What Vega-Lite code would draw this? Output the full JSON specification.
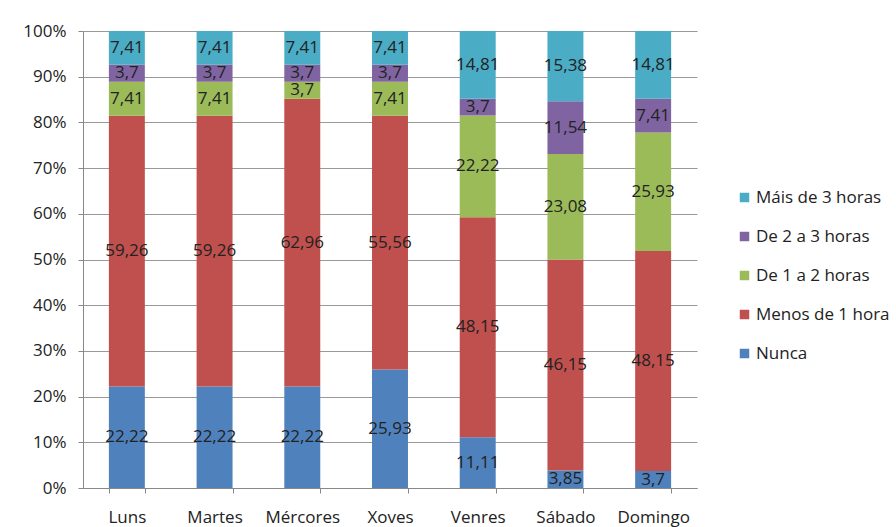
{
  "$schema": "https://vega.github.io/schema/vega-lite/v6.json",
  "width": 614,
  "height": 457,
  "autosize": {"type": "none"},
  "padding": {"left": 83, "top": 31, "right": 199, "bottom": 39},
  "background": "white",
  "config": {
    "font": "Open Sans",
    "view": {"stroke": null},
    "locale": {"number": {"decimal": ",", "thousands": ".", "grouping": [3], "currency": ["", " €"]}},
    "axisY": {
      "title": null, "format": ".0%", "values": [0,0.1,0.2,0.3,0.4,0.5,0.6,0.7,0.8,0.9,1],
      "labelFontSize": 17, "labelColor": "#222222", "labelPadding": 12,
      "tickSize": 5, "tickColor": "#888888", "domainColor": "#888888",
      "grid": true, "gridColor": "#999999", "gridWidth": 1, "labelOverlap": false
    }
  },
  "data": {
    "values": [
      {"dia": "Luns", "cat": "Nunca", "ord": 1, "v": 22.22},
      {"dia": "Luns", "cat": "Menos de 1 hora", "ord": 2, "v": 59.26},
      {"dia": "Luns", "cat": "De 1 a 2 horas", "ord": 3, "v": 7.41},
      {"dia": "Luns", "cat": "De 2 a 3 horas", "ord": 4, "v": 3.7},
      {"dia": "Luns", "cat": "Máis de 3 horas", "ord": 5, "v": 7.41},
      {"dia": "Martes", "cat": "Nunca", "ord": 1, "v": 22.22},
      {"dia": "Martes", "cat": "Menos de 1 hora", "ord": 2, "v": 59.26},
      {"dia": "Martes", "cat": "De 1 a 2 horas", "ord": 3, "v": 7.41},
      {"dia": "Martes", "cat": "De 2 a 3 horas", "ord": 4, "v": 3.7},
      {"dia": "Martes", "cat": "Máis de 3 horas", "ord": 5, "v": 7.41},
      {"dia": "Mércores", "cat": "Nunca", "ord": 1, "v": 22.22},
      {"dia": "Mércores", "cat": "Menos de 1 hora", "ord": 2, "v": 62.96},
      {"dia": "Mércores", "cat": "De 1 a 2 horas", "ord": 3, "v": 3.7},
      {"dia": "Mércores", "cat": "De 2 a 3 horas", "ord": 4, "v": 3.7},
      {"dia": "Mércores", "cat": "Máis de 3 horas", "ord": 5, "v": 7.41},
      {"dia": "Xoves", "cat": "Nunca", "ord": 1, "v": 25.93},
      {"dia": "Xoves", "cat": "Menos de 1 hora", "ord": 2, "v": 55.56},
      {"dia": "Xoves", "cat": "De 1 a 2 horas", "ord": 3, "v": 7.41},
      {"dia": "Xoves", "cat": "De 2 a 3 horas", "ord": 4, "v": 3.7},
      {"dia": "Xoves", "cat": "Máis de 3 horas", "ord": 5, "v": 7.41},
      {"dia": "Venres", "cat": "Nunca", "ord": 1, "v": 11.11},
      {"dia": "Venres", "cat": "Menos de 1 hora", "ord": 2, "v": 48.15},
      {"dia": "Venres", "cat": "De 1 a 2 horas", "ord": 3, "v": 22.22},
      {"dia": "Venres", "cat": "De 2 a 3 horas", "ord": 4, "v": 3.7},
      {"dia": "Venres", "cat": "Máis de 3 horas", "ord": 5, "v": 14.81},
      {"dia": "Sábado", "cat": "Nunca", "ord": 1, "v": 3.85},
      {"dia": "Sábado", "cat": "Menos de 1 hora", "ord": 2, "v": 46.15},
      {"dia": "Sábado", "cat": "De 1 a 2 horas", "ord": 3, "v": 23.08},
      {"dia": "Sábado", "cat": "De 2 a 3 horas", "ord": 4, "v": 11.54},
      {"dia": "Sábado", "cat": "Máis de 3 horas", "ord": 5, "v": 15.38},
      {"dia": "Domingo", "cat": "Nunca", "ord": 1, "v": 3.7},
      {"dia": "Domingo", "cat": "Menos de 1 hora", "ord": 2, "v": 48.15},
      {"dia": "Domingo", "cat": "De 1 a 2 horas", "ord": 3, "v": 25.93},
      {"dia": "Domingo", "cat": "De 2 a 3 horas", "ord": 4, "v": 7.41},
      {"dia": "Domingo", "cat": "Máis de 3 horas", "ord": 5, "v": 14.81}
    ]
  },
  "encoding": {
    "x": {
      "field": "dia", "type": "nominal", "sort": null,
      "scale": {"paddingInner": 0.59, "paddingOuter": 0.295},
      "axis": {
        "title": null, "labelAngle": 0, "labelFontSize": 17, "labelColor": "#222222",
        "labelPadding": 16, "tickBand": "extent", "tickSize": 5, "tickColor": "#888888",
        "domainColor": "#888888", "grid": false
      }
    },
    "y": {
      "field": "v", "type": "quantitative", "stack": "normalize",
      "scale": {"domain": [0, 1]}
    },
    "order": {"field": "ord", "type": "quantitative", "sort": "ascending"}
  },
  "layer": [
    {
      "mark": {"type": "bar"},
      "encoding": {
        "color": {
          "field": "cat", "type": "nominal",
          "scale": {
            "domain": ["Máis de 3 horas", "De 2 a 3 horas", "De 1 a 2 horas", "Menos de 1 hora", "Nunca"],
            "range": ["#4BACC6", "#8064A2", "#9BBB59", "#C0504D", "#4F81BD"]
          },
          "legend": {
            "title": null, "orient": "none", "legendX": 653, "legendY": 158,
            "symbolType": "square", "symbolSize": 90, "symbolStrokeWidth": 0,
            "labelFontSize": 17, "labelColor": "#222222", "rowPadding": 21, "labelOffset": 3,
            "labelLimit": 300
          }
        }
      }
    },
    {
      "mark": {"type": "text", "fontSize": 17, "color": "#222222", "baseline": "middle"},
      "encoding": {
        "y": {"field": "v", "type": "quantitative", "stack": "normalize", "bandPosition": 0.5, "scale": {"domain": [0, 1]}},
        "text": {"field": "v", "type": "quantitative", "format": ".4~g"}
      }
    }
  ]
}
